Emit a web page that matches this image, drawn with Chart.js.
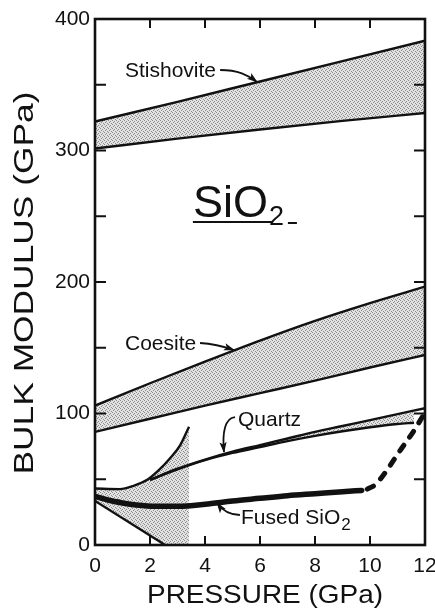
<!DOCTYPE html>
<html>
<head>
<meta charset="utf-8">
<script src="https://cdn.jsdelivr.net/npm/chart.js@4.4.1/dist/chart.umd.min.js"></script>
<style>
  html, body { margin: 0; padding: 0; background: #fff; }
  #wrap { width: 435px; height: 613px; }
</style>
</head>
<body>
<div id="wrap"><canvas id="c" width="435" height="613"></canvas></div>
<script>
// Bulk modulus (GPa) of SiO2 polymorphs against pressure (GPa)
const xTicks = [0, 2, 4, 6, 8, 10, 12];
const yTicks = [0, 100, 200, 300, 400];
const yMinorTicks = [50, 100, 150, 200, 250, 300, 350];

const stishoviteP    = [0, 3, 6, 9, 12];
const stishoviteHigh = [322, 337, 352.5, 368, 383.5];
const stishoviteLow  = [301.5, 309, 316, 322.5, 328.5];

const coesiteP    = [0, 2, 4, 6, 8, 10, 12];
const coesiteHigh = [106, 123, 139.5, 155.5, 170.5, 184, 196.5];
const coesiteLow  = [86, 96, 106, 115.5, 125, 135, 144.5];

const quartzHighP = [2, 3, 4, 5, 6, 7, 8, 9, 10, 11, 12];
const quartzHigh  = [49.5, 58, 65, 71, 76, 81, 86, 90.5, 95, 99.5, 104];
const quartzLowP  = [2, 3, 4, 5, 6, 7, 8, 9, 10, 11, 11.6];
const quartzLow   = [49.5, 57.5, 64.5, 70, 74.5, 79, 83, 86.5, 89.5, 92, 93];

// low-pressure branch and the lower edge of the shaded wedge below it
const branchP = [0, 0.9, 1.4, 1.93, 2.3, 2.73, 3.1, 3.42];
const branch  = [43, 42.5, 45, 50, 56.5, 66, 76, 90];
const wedgeP  = [0, 2.55, 3.42];
const wedge   = [33.5, 0, 0];

const fusedP     = [0, 0.5, 1, 1.5, 2.2, 3, 4, 5, 6, 7, 8, 9, 9.7];
const fused      = [37, 34, 32, 30.5, 29.5, 29.5, 31, 33.5, 35.5, 37.5, 39, 40.5, 41.5];
const fusedDashP = [9.9, 10.2, 10.55, 11.1, 11.6, 11.95];
const fusedDash  = [42.5, 46, 55, 72, 87, 99];

const pts = (xs, ys) => xs.map((x, i) => ({ x, y: ys[i] }));

// fine grey stipple used for the shaded bands
function stipple() {
  const c = document.createElement('canvas');
  c.width = 4; c.height = 4;
  const g = c.getContext('2d');
  g.fillStyle = '#e2e2e2'; g.fillRect(0, 0, 4, 4);
  g.fillStyle = '#8c8c8c';
  g.fillRect(0, 0, 1, 1); g.fillRect(2, 1, 1, 1);
  g.fillRect(1, 2, 1, 1); g.fillRect(3, 3, 1, 1);
  return g.createPattern(c, 'repeat');
}
const shade = stipple();
const INK = '#111';

const line = (data, extra) => Object.assign({
  data, borderColor: INK, borderWidth: 2.4, pointRadius: 0,
  cubicInterpolationMode: 'monotone', fill: false, backgroundColor: shade
}, extra || {});

const datasets = [
  line(pts(stishoviteP, stishoviteHigh), { fill: '+1' }),
  line(pts(stishoviteP, stishoviteLow)),
  line(pts(coesiteP, coesiteHigh), { fill: '+1' }),
  line(pts(coesiteP, coesiteLow)),
  line(pts(quartzHighP, quartzHigh), { fill: '+1' }),
  line(pts(quartzLowP, quartzLow)),
  line(pts(branchP, branch), { fill: '+1' }),
  line(pts(wedgeP, wedge), { cubicInterpolationMode: 'default', tension: 0,
    segment: { borderColor: c => c.p0DataIndex === 1 ? 'rgba(0,0,0,0)' : INK } }),
  line(pts(fusedP, fused), { borderWidth: 5.5, borderCapStyle: 'round' }),
  line(pts(fusedDashP, fusedDash), { borderWidth: 5, borderDash: [7, 10], borderCapStyle: 'round' })
];

const FONT = '"Liberation Sans", Arial, sans-serif';

function arrow(ctx, x, y, p, head) {
  const P = p.map(q => [x.getPixelForValue(q[0]), y.getPixelForValue(q[1])]);
  ctx.beginPath();
  ctx.moveTo(P[0][0], P[0][1]);
  ctx.bezierCurveTo(P[1][0], P[1][1], P[2][0], P[2][1], P[3][0], P[3][1]);
  ctx.lineWidth = 1.8;
  ctx.stroke();
  const ang = Math.atan2(P[3][1] - P[2][1], P[3][0] - P[2][0]);
  const L = head || 10, W = 3.6;
  ctx.save();
  ctx.translate(P[3][0], P[3][1]);
  ctx.rotate(ang);
  ctx.beginPath();
  ctx.moveTo(1, 0); ctx.lineTo(-L, -W); ctx.lineTo(-L * 0.75, 0); ctx.lineTo(-L, W);
  ctx.closePath();
  ctx.fill();
  ctx.restore();
}

function stretchedText(ctx, text, cx, cy, size, width, rot) {
  ctx.save();
  ctx.font = size + 'px ' + FONT;
  const w = ctx.measureText(text).width;
  ctx.translate(cx, cy);
  if (rot) ctx.rotate(rot);
  ctx.scale(width / w, 1);
  ctx.textAlign = 'center';
  ctx.textBaseline = 'alphabetic';
  ctx.fillText(text, 0, 0);
  ctx.restore();
}

const decorations = {
  id: 'decorations',
  afterDraw(chart) {
    const { ctx, chartArea: a, scales: { x, y } } = chart;
    ctx.save();
    ctx.strokeStyle = INK; ctx.fillStyle = INK;

    // frame and inward ticks on all four sides
    ctx.lineWidth = 2.6;
    ctx.strokeRect(a.left, a.top, a.right - a.left, a.bottom - a.top);
    ctx.lineWidth = 2;
    ctx.beginPath();
    xTicks.forEach(v => {
      const px = x.getPixelForValue(v);
      ctx.moveTo(px, a.bottom); ctx.lineTo(px, a.bottom - 9);
      ctx.moveTo(px, a.top); ctx.lineTo(px, a.top + 9);
    });
    yMinorTicks.forEach(v => {
      const py = y.getPixelForValue(v);
      ctx.moveTo(a.left, py); ctx.lineTo(a.left + 11, py);
      ctx.moveTo(a.right, py); ctx.lineTo(a.right - 11, py);
    });
    ctx.stroke();

    // axis titles
    stretchedText(ctx, 'BULK MODULUS (GPa)', 33, 283, 28, 383, -Math.PI / 2);
    stretchedText(ctx, 'PRESSURE (GPa)', 265, 603, 25, 236, 0);

    // phase labels
    const px = v => x.getPixelForValue(v), py = v => y.getPixelForValue(v);
    ctx.textAlign = 'left'; ctx.textBaseline = 'alphabetic';
    ctx.font = '21px ' + FONT;
    ctx.fillText('Stishovite', px(1.09), py(356));
    ctx.fillText('Coesite', px(1.09), py(148.3));
    ctx.fillText('Quartz', px(5.2), py(90.5));
    const fx = px(5.31), fy = py(16);
    ctx.fillText('Fused SiO', fx, fy);
    const fw = ctx.measureText('Fused SiO').width;
    ctx.font = '17px ' + FONT;
    ctx.fillText('2', fx + fw + 1, fy + 6);

    // large formula with underline
    const sx = px(3.56), sy = py(249.4);
    ctx.font = '45px ' + FONT;
    ctx.fillText('SiO', sx, sy);
    const sw = ctx.measureText('SiO').width;
    ctx.font = '27px ' + FONT;
    ctx.fillText('2', sx + sw + 1, sy + 8);
    ctx.lineWidth = 2;
    ctx.beginPath();
    ctx.moveTo(sx, sy + 5); ctx.lineTo(sx + 80, sy + 5);
    ctx.moveTo(sx + 95, sy + 6); ctx.lineTo(sx + 104, sy + 6);
    ctx.stroke();

    // pointer arrows
    arrow(ctx, x, y, [[4.55, 361.2], [5.2, 361.2], [5.56, 357.4], [5.89, 352.1]]);
    arrow(ctx, x, y, [[3.82, 153.6], [4.36, 152.9], [4.73, 150.6], [5.05, 148.3]]);
    arrow(ctx, x, y, [[5.09, 97.3], [4.73, 96.6], [4.62, 85.9], [4.69, 70.7]]);
    arrow(ctx, x, y, [[5.27, 22.8], [4.84, 22.8], [4.62, 26.6], [4.44, 31.9]]);
    ctx.restore();
  }
};

new Chart(document.getElementById('c'), {
  type: 'line',
  data: { datasets },
  options: {
    responsive: false,
    animation: false,
    devicePixelRatio: 1,
    layout: { padding: { left: 0, right: 10, top: 19, bottom: 0 } },
    plugins: {
      legend: { display: false },
      tooltip: { enabled: false },
      filler: { drawTime: 'beforeDatasetsDraw' }
    },
    scales: {
      x: {
        type: 'linear', min: 0, max: 12,
        afterBuildTicks: s => { s.ticks = xTicks.map(v => ({ value: v })); },
        ticks: { font: { family: FONT, size: 21 }, color: INK, padding: 9, maxRotation: 0, autoSkip: false },
        grid: { display: false, drawTicks: false },
        border: { display: false },
        afterFit: s => { s.height = 68; s.paddingLeft = 0; s.paddingRight = 0; }
      },
      y: {
        type: 'linear', min: 0, max: 400,
        afterBuildTicks: s => { s.ticks = yTicks.map(v => ({ value: v })); },
        ticks: { font: { family: FONT, size: 21 }, color: INK, padding: 5, autoSkip: false },
        grid: { display: false, drawTicks: false },
        border: { display: false },
        afterFit: s => { s.width = 95; s.paddingTop = 0; s.paddingBottom = 0; }
      }
    }
  },
  plugins: [decorations]
});
</script>
</body>
</html>
